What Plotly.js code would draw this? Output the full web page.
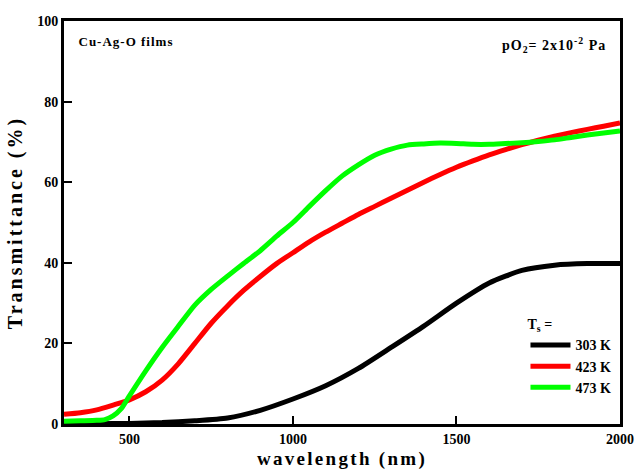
<!DOCTYPE html>
<html>
<head>
<meta charset="utf-8">
<script src="https://cdn.plot.ly/plotly-3.0.1.min.js"></script>
<style>
html,body{margin:0;padding:0;background:#fff;}
#chart{width:635px;height:471px;}
#chart .g-xtitle text{letter-spacing:2.3px;}
#chart .g-ytitle text{letter-spacing:3px;}
#chart .annotation-text{letter-spacing:1px;}
</style>
</head>
<body>
<div id="chart"></div>
<script>
// Wavelength (nm) and transmittance (%) for each substrate temperature
const wl303 = [300, 400, 500, 600, 700, 800, 900, 1000, 1100, 1200, 1300, 1400, 1500, 1600, 1700, 1800, 1900, 2000];
const t303  = [0.0, 0.05, 0.15, 0.35, 0.8, 1.5, 3.4, 6.2, 9.5, 13.8, 19.0, 24.3, 30.0, 35.0, 38.1, 39.4, 39.8, 39.8];

const wl423 = [300, 350, 400, 450, 500, 550, 600, 650, 700, 750, 800, 850, 900, 950, 1000, 1050, 1100, 1150, 1200, 1250, 1300, 1350, 1400, 1450, 1500, 1550, 1600, 1650, 1700, 1750, 1800, 1850, 1900, 1950, 2000];
const t423  = [2.4, 2.8, 3.5, 4.7, 6.0, 8.0, 10.9, 15.0, 20.0, 25.0, 29.3, 33.2, 36.6, 39.8, 42.5, 45.2, 47.6, 49.8, 52.0, 54.0, 56.0, 58.0, 60.0, 61.9, 63.7, 65.3, 66.8, 68.1, 69.3, 70.4, 71.4, 72.3, 73.1, 73.9, 74.7];

const wl473 = [300, 350, 400, 425, 450, 475, 500, 550, 600, 650, 700, 750, 800, 850, 900, 950, 1000, 1050, 1100, 1150, 1200, 1250, 1300, 1350, 1400, 1450, 1500, 1550, 1600, 1650, 1700, 1750, 1800, 1850, 1900, 1950, 2000];
const t473  = [0.7, 0.8, 0.9, 1.1, 2.0, 3.8, 7.0, 13.2, 19.0, 24.3, 29.5, 33.4, 36.7, 39.9, 43.0, 46.6, 50.0, 54.0, 57.9, 61.5, 64.3, 66.7, 68.2, 69.2, 69.5, 69.7, 69.6, 69.4, 69.4, 69.6, 69.8, 70.1, 70.5, 71.1, 71.7, 72.2, 72.7];

const names = ["303 K", "423 K", "473 K"];
const colors = ["#000000", "#ff0000", "#00ff00"];
const xTicks = [500, 1000, 1500, 2000];
const yTicks = [0, 20, 40, 60, 80, 100];

const fam = "Liberation Serif, Times New Roman, serif";
const series = [[wl303, t303], [wl423, t423], [wl473, t473]];
const data = series.map((s, i) => ({
  x: s[0], y: s[1], type: "scatter", mode: "lines", name: names[i],
  line: {color: colors[i], width: 5, shape: "spline", smoothing: 0.6}
}));

const axisCommon = {
  showline: true, linecolor: "#000", linewidth: 3, mirror: true,
  ticks: "inside", ticklen: 8, tickwidth: 2, tickcolor: "#000",
  showgrid: false, zeroline: false,
  tickfont: {family: fam, size: 14, color: "#000", weight: "bold"}
};

const layout = {
  width: 635, height: 471,
  margin: {l: 64, r: 15, t: 21, b: 47},
  paper_bgcolor: "#fff", plot_bgcolor: "#fff",
  showlegend: true,
  xaxis: Object.assign({}, axisCommon, {
    range: [300, 2000], tickvals: xTicks, ticktext: xTicks.map(String),
    title: {text: "wavelength (nm)", standoff: 6, font: {family: fam, size: 19, color: "#000", weight: "bold"}}
  }),
  yaxis: Object.assign({}, axisCommon, {
    range: [0, 100], tickvals: yTicks, ticktext: yTicks.map(String),
    title: {text: "Transmittance (%)", standoff: 10, font: {family: fam, size: 20, color: "#000", weight: "bold"}}
  }),
  legend: {
    x: 0.83, y: 0.28, xanchor: "left", yanchor: "top",
    bgcolor: "rgba(0,0,0,0)", itemwidth: 40, tracegroupgap: 0,
    font: {family: fam, size: 14, color: "#000", weight: "bold"},
    title: {text: "T<sub>s</sub> =", font: {family: fam, size: 14, color: "#000", weight: "bold"}}
  },
  annotations: [
    {xref: "paper", yref: "paper", x: 0.034, y: 0.95, xanchor: "left", yanchor: "middle", showarrow: false,
     text: "Cu-Ag-O films", font: {family: fam, size: 13, color: "#000", weight: "bold"}},
    {xref: "paper", yref: "paper", x: 0.965, y: 0.94, xanchor: "right", yanchor: "middle", showarrow: false,
     text: "pO<sub>2</sub>= 2x10<sup>-2</sup> Pa", font: {family: fam, size: 14, color: "#000", weight: "bold"}}
  ]
};

Plotly.newPlot("chart", data, layout, {displayModeBar: false, staticPlot: true});
</script>
</body>
</html>
